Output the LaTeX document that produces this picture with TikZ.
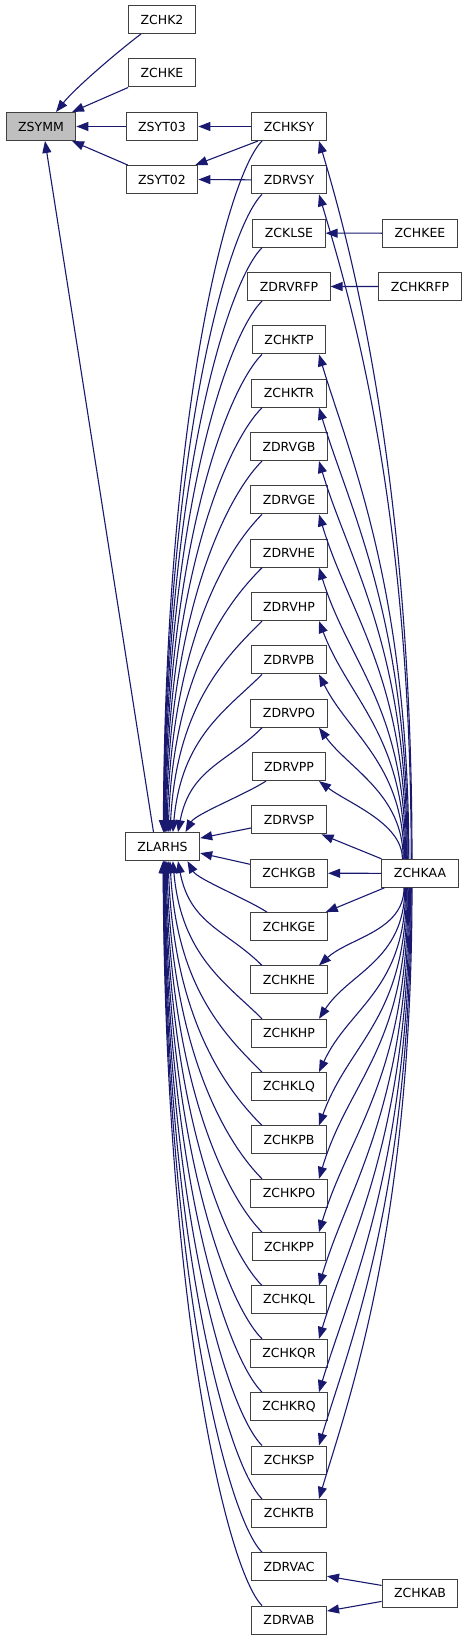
\documentclass[tikz,border=0pt]{standalone}
\usepackage{fontspec}
\setmainfont{DejaVu Sans}
\usetikzlibrary{arrows.meta}
\definecolor{edgecol}{HTML}{191970}
\definecolor{boxline}{HTML}{404040}
\definecolor{boxfill}{HTML}{BFBFBF}
\begin{document}
\begin{tikzpicture}[x=1pt,y=-1pt,
  box/.style={draw=boxline, line width=1pt, fill=white, minimum height=28pt,
    inner xsep=12pt, inner ysep=0pt, font=\fontsize{12.5}{14}\selectfont, text=black},
  hl/.style={box, fill=boxfill},
  e/.style={draw=edgecol, line width=1.1pt, -{Triangle[length=12pt,width=9pt]}}]
\useasboundingbox (0,0) rectangle (467,1640);

% middle column
\foreach \n [count=\i from 0] in {ZCHKSY,ZDRVSY,ZCKLSE,ZDRVRFP,ZCHKTP,ZCHKTR,ZDRVGB,ZDRVGE,ZDRVHE,ZDRVHP,ZDRVPB,ZDRVPO,ZDRVPP,ZDRVSP,ZCHKGB,ZCHKGE,ZCHKHE,ZCHKHP,ZCHKLQ,ZCHKPB,ZCHKPO,ZCHKPP,ZCHKQL,ZCHKQR,ZCHKRQ,ZCHKSP,ZCHKTB,ZDRVAC,ZDRVAB}
  \node[box] (\n) at (289,{126.5+53.34*\i}) {\n};

\node[hl]  (ZSYMM)   at (41,126.5)   {ZSYMM};
\node[box] (ZCHK2)   at (162,19.5)   {ZCHK2};
\node[box] (ZCHKE)   at (162,73)     {ZCHKE};
\node[box] (ZSYT03)  at (162,126.5)  {ZSYT03};
\node[box] (ZSYT02)  at (162,179.5)  {ZSYT02};
\node[box] (ZLARHS)  at (162.5,846.6) {ZLARHS};
\node[box] (ZCHKEE)  at (420,233.2)  {ZCHKEE};
\node[box] (ZCHKRFP) at (420,286.5)  {ZCHKRFP};
\node[box] (ZCHKAA)  at (420,873.3)  {ZCHKAA};
\node[box] (ZCHKAB)  at (420,1593.4) {ZCHKAB};

% edges to ZSYMM
\draw[e] ([xshift=-21pt]ZCHK2.south) .. controls +(-20,15) and +(20,-25) .. ([xshift=15pt]ZSYMM.north);
\draw[e] (ZCHKE.south west) -- ([xshift=31pt]ZSYMM.north);
\draw[e] (ZSYT03.west) -- (ZSYMM.east);
\draw[e] ([xshift=2pt]ZSYT02.north west) -- ([xshift=31pt]ZSYMM.south);
\draw[e] ([xshift=-9pt]ZLARHS.north) -- ([xshift=4pt]ZSYMM.south);

% to ZSYT03 / ZSYT02
\draw[e] (ZCHKSY.west) -- (ZSYT03.east);
\draw[e] ([xshift=-31pt]ZCHKSY.south) -- ([xshift=-3pt]ZSYT02.north east);
\draw[e] (ZDRVSY.west) -- (ZSYT02.east);

% side callers
\draw[e] (ZCHKEE.west) -- (ZCKLSE.east);
\draw[e] (ZCHKRFP.west) -- (ZDRVRFP.east);
\draw[e] ([yshift=8pt]ZCHKAB.west) -- ([yshift=-9.5pt]ZDRVAC.east);
\draw[e] ([yshift=-8pt]ZCHKAB.west) -- ([yshift=9pt]ZDRVAB.east);

% middle column -> ZLARHS (upper)
\foreach \n/\r in {ZCHKSY/0,ZDRVSY/1,ZCKLSE/2,ZDRVRFP/3,ZCHKTP/4,ZCHKTR/5,ZDRVGB/6,ZDRVGE/7,ZDRVHE/8,ZDRVHP/9,ZDRVPB/10,ZDRVPO/11}{
  \pgfmathsetmacro\mydist{13.5-\r}
  \pgfmathsetmacro\myex{45/\mydist-2.5}
  \pgfmathsetmacro\mydy{692.2-53.34*\r}
  \pgfmathsetmacro\myA{min(35,0.35*\mydy)}
  \pgfmathsetmacro\myB{0.6*\mydy}
  \pgfmathsetmacro\myC{30/\mydist}
  \draw[e] ([xshift=-27pt]\n.south) .. controls +(-\myA,\myA) and +(\myC,-\myB) .. ([xshift=\myex pt]ZLARHS.north);
}
\draw[e] ([xshift=-23pt]ZDRVPP.south) .. controls +(-22,14) and +(10,-18) .. ([xshift=23pt]ZLARHS.north);
% middle column -> ZLARHS (lower)
\foreach \n/\r in {ZCHKHE/16,ZCHKHP/17,ZCHKLQ/18,ZCHKPB/19,ZCHKPO/20,ZCHKPP/21,ZCHKQL/22,ZCHKQR/23,ZCHKRQ/24,ZCHKSP/25,ZCHKTB/26,ZDRVAC/27,ZDRVAB/28}{
  \pgfmathsetmacro\mydist{\r-13.5}
  \pgfmathsetmacro\myex{45/\mydist-2.5}
  \pgfmathsetmacro\mydy{53.34*\r-747.8}
  \pgfmathsetmacro\myA{min(35,0.35*\mydy)}
  \pgfmathsetmacro\myB{0.6*\mydy}
  \pgfmathsetmacro\myC{30/\mydist}
  \draw[e] ([xshift=-27pt]\n.north) .. controls +(-\myA,-\myA) and +(\myC,\myB) .. ([xshift=\myex pt]ZLARHS.south);
}
\draw[e] ([xshift=-22pt]ZCHKGE.north) .. controls +(-22,-14) and +(10,18) .. ([xshift=25pt]ZLARHS.south);
\draw[e] ([yshift=-8pt]ZDRVSP.west) -- ([yshift=8.5pt]ZLARHS.east);
\draw[e] ([yshift=9pt]ZCHKGB.west) -- ([yshift=-6.5pt]ZLARHS.east);

% ZCHKAA -> middle column (upper)
\foreach \n/\r in {ZCHKSY/0,ZDRVSY/1,ZCHKTP/4,ZCHKTR/5,ZDRVGB/6,ZDRVGE/7,ZDRVHE/8,ZDRVHP/9,ZDRVPB/10,ZDRVPO/11,ZDRVPP/12}{
  \pgfmathsetmacro\mysx{-8-0.8*\r}
  \pgfmathsetmacro\mydy{704.5-53.34*\r}
  \pgfmathsetmacro\myP{0.55*\mydy}
  \pgfmathsetmacro\myQ{min(100,0.35*\mydy)}
  \draw[e] ([xshift=\mysx pt]ZCHKAA.north) .. controls +(0,-\myP) and +(30,\myQ) .. ([xshift=30pt]\n.south);
}
% ZCHKAA -> middle column (lower)
\foreach \n/\r in {ZCHKHE/16,ZCHKHP/17,ZCHKLQ/18,ZCHKPB/19,ZCHKPO/20,ZCHKPP/21,ZCHKQL/22,ZCHKQR/23,ZCHKRQ/24,ZCHKSP/25,ZCHKTB/26}{
  \pgfmathsetmacro\mysx{-8-0.8*(26-\r)}
  \pgfmathsetmacro\mydy{53.34*\r-774.5}
  \pgfmathsetmacro\myP{0.55*\mydy}
  \pgfmathsetmacro\myQ{min(100,0.35*\mydy)}
  \draw[e] ([xshift=\mysx pt]ZCHKAA.south) .. controls +(0,\myP) and +(30,-\myQ) .. ([xshift=30pt]\n.north);
}
\draw[e] (ZCHKAA.north west) -- ([xshift=-5pt]ZDRVSP.south east);
\draw[e] (ZCHKAA.west) -- (ZCHKGB.east);
\draw[e] ([xshift=3pt]ZCHKAA.south west) -- ([xshift=-2pt]ZCHKGE.north east);
\end{tikzpicture}
\end{document}
